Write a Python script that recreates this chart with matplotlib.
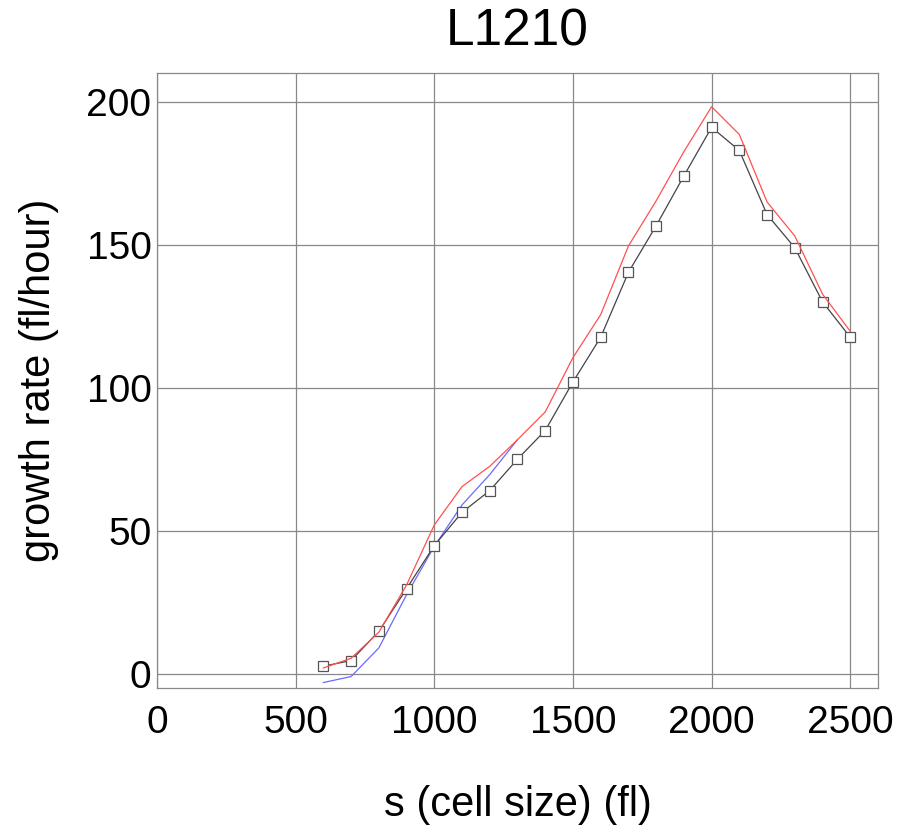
import matplotlib.pyplot as plt

plt.rcParams["font.family"] = ["Liberation Sans", "DejaVu Sans"]

# cell size (fl)
size = [600, 700, 800, 900, 1000, 1100, 1200, 1300, 1400, 1500,
        1600, 1700, 1800, 1900, 2000, 2100, 2200, 2300, 2400, 2500]
# growth rate (fl/hour)
rate_black = [2.6, 4.6, 14.8, 29.7, 44.8, 56.4, 64.0, 75.0, 85.0, 102.0,
              117.6, 140.3, 156.6, 174.0, 191.0, 182.9, 160.5, 148.9, 130.0, 117.6]
rate_red = [2.0, 5.4, 14.5, 31.0, 52.0, 65.4, 72.5, 81.8, 91.5, 110.5,
            125.5, 149.5, 165.3, 182.5, 198.2, 188.5, 164.9, 153.0, 132.7, 119.7]
size_blue = [600, 700, 800, 900, 1000, 1100, 1200, 1300]
rate_blue = [-3.1, -1.0, 9.0, 27.6, 44.5, 59.0, 69.6, 81.8]

fig = plt.figure(figsize=(9.16, 8.32), dpi=100)
ax = fig.add_axes([0.1714, 0.1731, 0.7871, 0.7392])

ax.plot(size_blue, rate_blue, color="#6a6aff", lw=0.9)
ax.plot(size, rate_black, color="#444444", lw=0.9, marker="s", ms=7,
        mfc="white", mec="#555555", mew=0.9)
ax.plot(size, rate_red, color="#ff5050", lw=0.9)

ax.set_xlim(0, 2600)
ax.set_ylim(-5, 210)
ax.set_xticks([0, 500, 1000, 1500, 2000, 2500])
ax.set_yticks([0, 50, 100, 150, 200])
ax.tick_params(length=0, labelsize=28)
ax.tick_params(axis="x", pad=12)
ax.tick_params(axis="y", pad=4)
ax.grid(True, color="#888888", lw=0.9)
for s in ax.spines.values():
    s.set_color("#888888")
    s.set_linewidth(0.9)

ax.set_xlabel("s (cell size) (fl)", fontsize=30, labelpad=32)
ax.set_ylabel("growth rate (fl/hour)", fontsize=30, labelpad=20)
ax.set_title("L1210", fontsize=37, pad=20)

plt.savefig("out.png", dpi=100)
